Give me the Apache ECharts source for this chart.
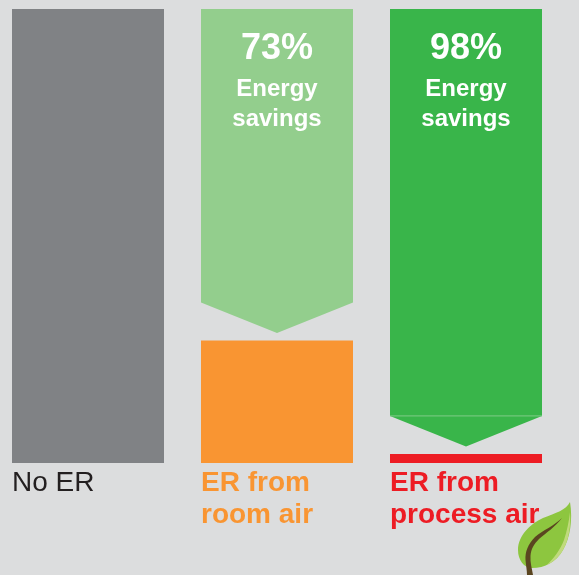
<!DOCTYPE html>
<html>
<head>
<meta charset="utf-8">
<title>Energy savings</title>
<script src="https://cdn.jsdelivr.net/npm/echarts@6/dist/echarts.min.js"></script>
<style>
  html, body { margin: 0; padding: 0; background: #dcddde; }
  #chart { width: 579px; height: 575px; }
</style>
</head>
<body>
<div id="chart"></div>
<script>
// energy use relative to no energy recovery (%)
const categories = ['No ER', 'ER from\nroom air', 'ER from\nprocess air'];
const energyUse = [100, 27, 2];
const savings = [null, 73, 98];
const savingsLabel = 'Energy\nsavings';

const barColors = ['#808285', '#f99532', '#ed1c24'];
const arrowColors = [null, '#93ce8d', '#39b54a'];
const labelColors = ['#231f20', '#f99532', '#ed1c24'];

const chart = echarts.init(document.getElementById('chart'));

// down arrow from the top of the scale to just above the remaining bar
function renderArrow(params, api) {
    const idx = api.value(0);
    const saved = api.value(1);
    const top = api.coord([idx, 100]);
    const base = api.coord([idx, 100 - saved]);
    const half = api.size([1, 0])[0] * 152 / 189 / 2;
    const tipY = base[1] - 7.5;
    const shoulderY = tipY - 30.5;
    const children = [
        {
            type: 'polygon',
            shape: {
                points: [
                    [top[0] - half, top[1]],
                    [top[0] + half, top[1]],
                    [top[0] + half, shoulderY],
                    [top[0], tipY],
                    [top[0] - half, shoulderY]
                ]
            },
            style: { fill: arrowColors[idx] }
        },
        {
            type: 'text',
            style: {
                text: saved + '%',
                x: top[0],
                y: top[1] + 22,
                align: 'center',
                fill: '#fff',
                font: 'bold 36px "Liberation Sans", Arial, sans-serif'
            }
        },
        {
            type: 'text',
            style: {
                text: savingsLabel,
                x: top[0],
                y: top[1] + 65,
                align: 'center',
                lineHeight: 30,
                fill: '#fff',
                font: 'bold 24px "Liberation Sans", Arial, sans-serif'
            }
        }
    ];
    // thin seam under the darker arrow
    if (idx === 2) {
        children.push({
            type: 'line',
            shape: { x1: top[0] - half, y1: shoulderY, x2: top[0] + half, y2: shoulderY },
            style: { stroke: '#7fcb88', lineWidth: 1 }
        });
    }
    return { type: 'group', children: children };
}

// leaf in the bottom right corner, in page pixels
function renderLeaf() {
    const box = { x: 0, y: 0, width: 579, height: 575 };
    const part = function (d, fill) {
        return {
            type: 'path',
            shape: Object.assign({ pathData: 'M0 0M579 575' + d }, box),
            style: { fill: fill }
        };
    };
    return {
        type: 'group',
        children: [
            part('M570 502C566 510 556 513 543 518C530 524 518 536 518 550C518 560 524 568 532 568C545 568 556 562 563 550C570 538 573 520 570 502Z', '#8dc63f'),
            part('M570 512C571 525 569 540 563 550C559 557 553 562 547 565C554 558 560 550 564 540C567 531 569 521 570 512Z', '#c0da7c'),
            part('M562 518C554 526 543 530 535 537C528 544 525 552 525.5 560C526 566 527 570 527 575L533 575C532 569 530 562 530.5 556C531 549 534 544 539 539C546 533 555 527 562 518Z', '#5a4520')
        ]
    };
}

const rich = {};
labelColors.forEach(function (color, i) {
    rich['c' + i] = {
        width: 152,
        align: 'left',
        color: color,
        lineHeight: 32,
        fontSize: 28,
        fontWeight: i === 0 ? 'normal' : 'bold',
        fontFamily: '"Liberation Sans", Arial, sans-serif'
    };
});

const option = {
    backgroundColor: '#dcddde',
    animation: false,
    grid: { left: -6.5, top: 9, width: 567, height: 454, outerBoundsMode: 'none' },
    xAxis: {
        type: 'category',
        data: categories,
        axisLine: { show: false },
        axisTick: { show: false },
        axisLabel: {
            interval: 0,
            margin: 4,
            rich: rich,
            formatter: function (value, index) {
                return value.split('\n').map(function (line) {
                    return '{c' + index + '|' + line + '}';
                }).join('\n');
            }
        }
    },
    yAxis: { type: 'value', min: 0, max: 100, show: false, splitLine: { show: false } },
    series: [
        {
            type: 'bar',
            barWidth: 152,
            data: energyUse.map(function (v, i) {
                return { value: v, itemStyle: { color: barColors[i] } };
            })
        },
        {
            type: 'custom',
            renderItem: renderArrow,
            encode: { x: 0, y: 1 },
            data: savings.map(function (v, i) { return [i, v]; }).filter(function (d) { return d[1] !== null; })
        },
        {
            type: 'custom',
            coordinateSystem: 'none',
            silent: true,
            renderItem: renderLeaf,
            data: [0]
        }
    ]
};

chart.setOption(option);
</script>
</body>
</html>
